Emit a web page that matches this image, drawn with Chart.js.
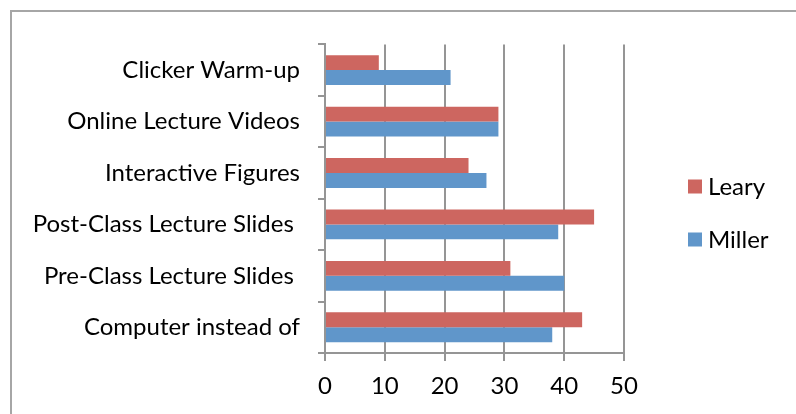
<!DOCTYPE html>
<html>
<head>
<meta charset="utf-8">
<script src="https://cdn.jsdelivr.net/npm/chart.js@4.4.0/dist/chart.umd.min.js"></script>
<style>
  html, body { margin: 0; padding: 0; background: #fff; overflow: hidden; }
  .frame {
    position: absolute; left: 10px; top: 10px;
    width: 800px; height: 420px;
    border-left: 2px solid #a6a6a6; border-top: 2px solid #a6a6a6;
  }
  canvas { display: block; }
</style>
</head>
<body>
<div class="frame">
  <canvas id="barChart" width="786" height="402"></canvas>
</div>
<script>
// 카테고리 (위에서 아래 순서)
const categories = [
    'Clicker Warm-up',
    'Online Lecture Videos',
    'Interactive Figures',
    'Post-Class Lecture Slides ',
    'Pre-Class Lecture Slides ',
    'Computer instead of'
];
const learyValues  = [9, 29, 24, 45, 31, 43];
const millerValues = [21, 29, 27, 39, 40, 38];
const xTicks = [0, 10, 20, 30, 40, 50];

const seriesNames  = ['Leary', 'Miller'];
const seriesColors = ['#cd6660', '#6096ca'];

const FONT = 'Lato';
const FONT_SIZE = 24;
const gridColor = '#959595';

// 오른쪽 범례 (직접 그림)
const sideLegend = {
    id: 'sideLegend',
    afterDraw(chart) {
        const ctx = chart.ctx;
        const area = chart.chartArea;
        const x = area.right + 64;
        const midY = chart.height / 2;
        const gap = 53;
        ctx.save();
        ctx.font = FONT_SIZE + 'px ' + FONT;
        ctx.textBaseline = 'middle';
        ctx.textAlign = 'left';
        chart.data.datasets.forEach(function(ds, i) {
            const y = midY - gap / 2 + i * gap;
            ctx.fillStyle = ds.backgroundColor;
            ctx.fillRect(x, y - 7, 14, 14);
            ctx.fillStyle = '#000';
            ctx.fillText(ds.label, x + 20, y + 1);
        });
        ctx.restore();
    }
};

new Chart(document.getElementById('barChart'), {
    type: 'bar',
    data: {
        labels: categories,
        datasets: [
            { label: seriesNames[0], data: learyValues, backgroundColor: seriesColors[0] },
            { label: seriesNames[1], data: millerValues, backgroundColor: seriesColors[1] }
        ]
    },
    options: {
        indexAxis: 'y',
        responsive: false,
        animation: false,
        categoryPercentage: 0.58,
        barPercentage: 1.0,
        layout: { padding: { top: 30, right: 174, bottom: 0, left: 0 } },
        plugins: {
            legend: { display: false },
            tooltip: { enabled: false }
        },
        scales: {
            x: {
                min: 0,
                max: 50,
                afterBuildTicks: function(scale) {
                    scale.ticks = xTicks.map(function(v) { return { value: v }; });
                },
                afterFit: function(scale) { scale.height = 61; },
                grid: {
                    color: gridColor,
                    lineWidth: 2,
                    tickLength: 8
                },
                border: { display: true, color: gridColor, width: 2 },
                ticks: {
                    color: '#000',
                    padding: 11,
                    font: { family: FONT, size: FONT_SIZE }
                }
            },
            y: {
                afterFit: function(scale) { scale.width = 313; },
                grid: {
                    drawOnChartArea: false,
                    color: gridColor,
                    lineWidth: 2,
                    tickLength: 7
                },
                border: { display: true, color: gridColor, width: 2 },
                ticks: {
                    color: '#000',
                    padding: 18,
                    font: { family: FONT, size: FONT_SIZE }
                }
            }
        }
    },
    plugins: [sideLegend]
});
</script>
</body>
</html>
